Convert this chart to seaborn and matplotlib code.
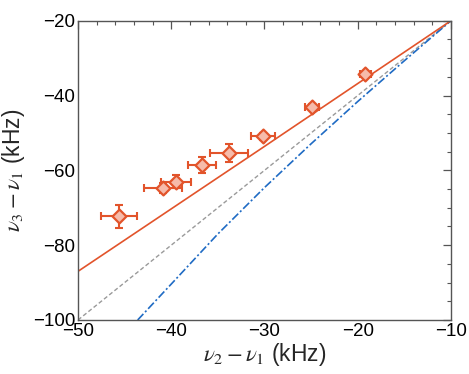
import matplotlib
matplotlib.use("Agg")
import matplotlib.pyplot as plt
import numpy as np
import seaborn as sns
import pandas as pd
from matplotlib.ticker import MultipleLocator

# measured points (kHz)
x_meas = [-45.6, -40.9, -39.5, -36.7, -33.8, -30.2, -24.9, -19.2]
y_meas = [-72.3, -64.7, -63.0, -58.5, -55.4, -50.9, -43.2, -34.3]
x_err = [1.96, 2.06, 1.6, 1.45, 2.04, 1.29, 0.75, 0.6]
y_err = [3.0, 1.3, 1.8, 2.1, 2.5, 1.0, 0.8, 0.6]

# model curves
x_fit = [-50, -40, -30, -20, -10]
y_fit = [-87.0, -70.3, -53.6, -36.8, -20.0]

x_grey = [-50, -10]
y_grey = [-100, -20]

x_blue = [-43.6, -40, -35, -30, -25, -20, -15, -10]
y_blue = [-100.0, -90.4, -77.0, -64.6, -52.9, -41.6, -30.7, -20.0]

orange = "#E2542B"
face = "#F6BBAA"
blue = "#1F6BC4"

sns.set_theme(style="white")
plt.rcParams["font.family"] = ["Liberation Sans", "DejaVu Sans"]
plt.rcParams["mathtext.fontset"] = "stix"

fig = plt.figure(figsize=(4.69, 3.74), dpi=100)
ax = fig.add_axes([0.1663, 0.1444, 0.7953, 0.8003])

sns.lineplot(data=pd.DataFrame({"x": x_grey, "y": y_grey}), x="x", y="y", ax=ax,
             color="#9A9A9A", lw=1.0, linestyle=(0, (3, 1.8)))
sns.lineplot(data=pd.DataFrame({"x": x_blue, "y": y_blue}), x="x", y="y", ax=ax,
             color=blue, lw=1.2, linestyle=(0, (5, 1.5, 1.2, 1.5)))
sns.lineplot(data=pd.DataFrame({"x": x_fit, "y": y_fit}), x="x", y="y", ax=ax,
             color=orange, lw=1.2)

ax.errorbar(x_meas, y_meas, xerr=x_err, yerr=y_err, fmt="none", ecolor=orange,
            elinewidth=1.5, capsize=3, capthick=1.5, zorder=4)
sns.scatterplot(data=pd.DataFrame({"x": x_meas, "y": y_meas}), x="x", y="y", ax=ax,
                marker="D", s=50, color=face, edgecolor=orange, linewidth=1.6, zorder=5)

ax.set_xlim(-50, -10)
ax.set_ylim(-100, -20)
ax.xaxis.set_major_locator(MultipleLocator(10))
ax.xaxis.set_minor_locator(MultipleLocator(2))
ax.yaxis.set_major_locator(MultipleLocator(20))
ax.yaxis.set_minor_locator(MultipleLocator(5))
ax.tick_params(which="both", direction="in", top=True, right=True,
               labelsize=13.5, colors="#555555", labelcolor="black", pad=2)
ax.tick_params(which="major", length=6, width=0.9)
ax.tick_params(which="minor", length=3, width=0.8)
for s in ax.spines.values():
    s.set_color("#555555")
    s.set_linewidth(1.0)

ax.set_xlabel(r"$\nu_2-\nu_1$ (kHz)", fontsize=16.5, labelpad=1)
ax.set_ylabel(r"$\nu_3-\nu_1$ (kHz)", fontsize=16.5, labelpad=4)

plt.savefig("out.png", dpi=100)
